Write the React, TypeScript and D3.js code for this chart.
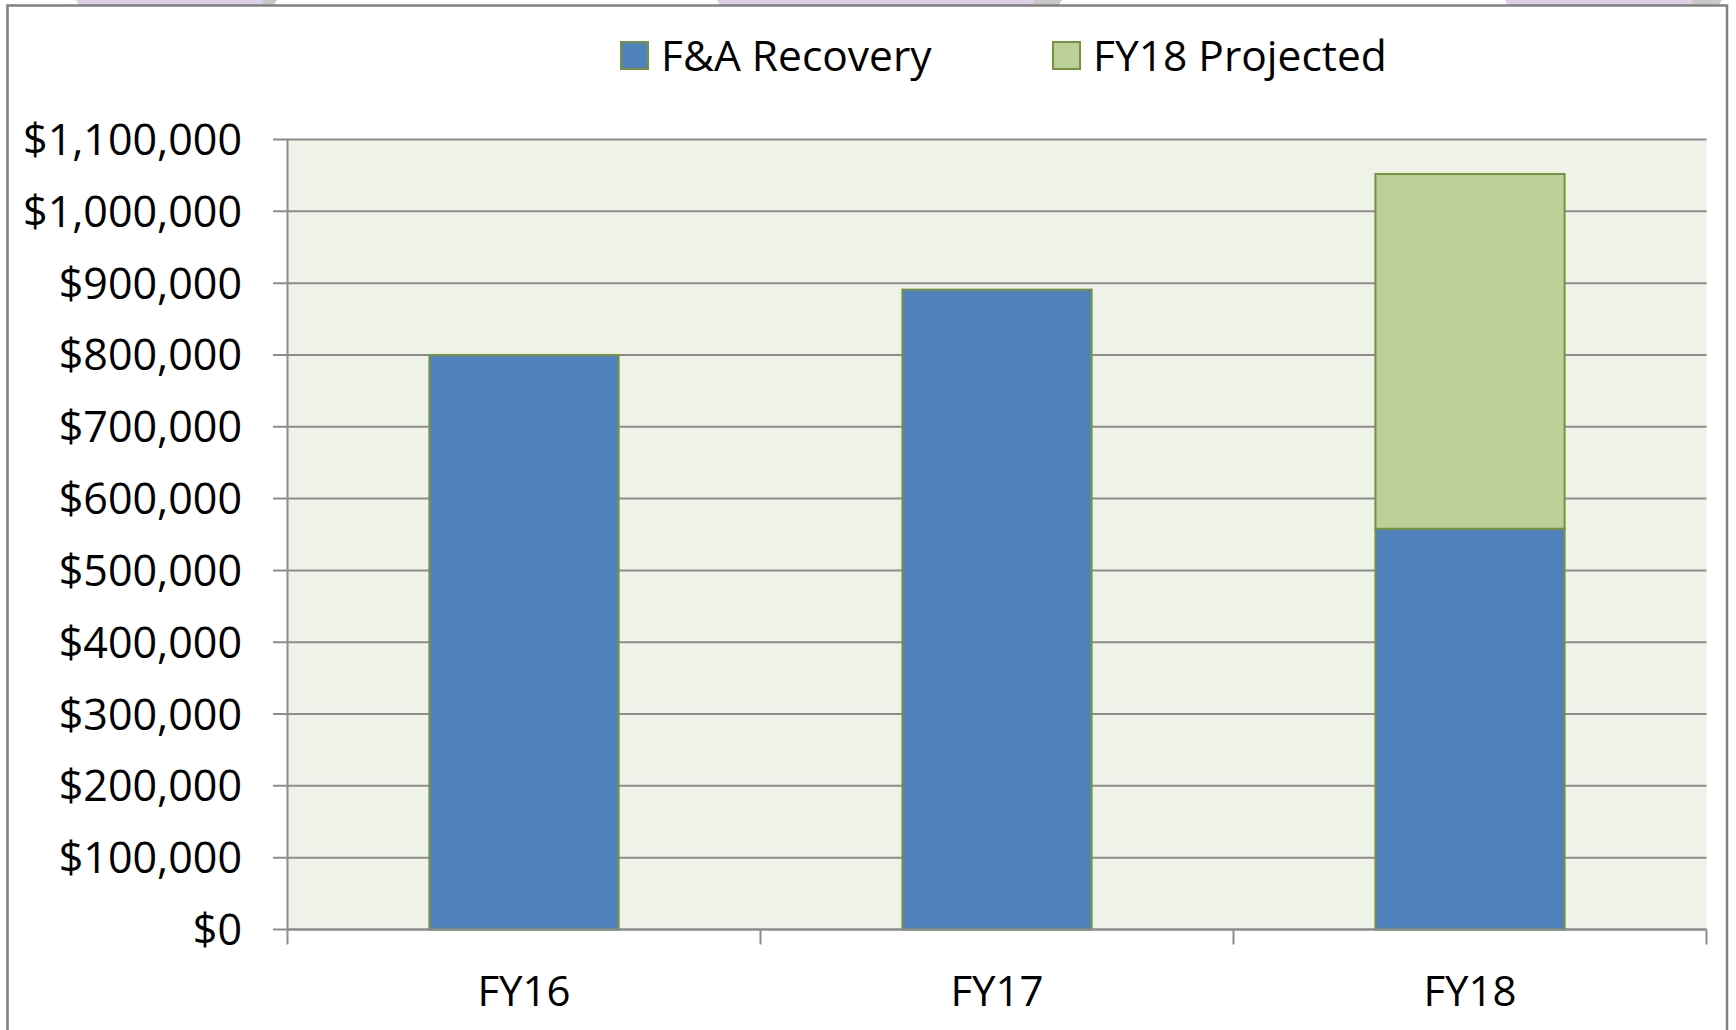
import * as d3 from 'd3';

const categories = ['FY16', 'FY17', 'FY18'];
const recovery = [800000, 891000, 558000];
const projected = [0, 0, 494000];
const seriesNames = ['F&A Recovery', 'FY18 Projected'];
const seriesColors = ['#4F81BD', '#BBCF99'];
const yTicks = d3.range(0, 1100001, 100000);

const W = 1736;
const H = 1030;
const margin = { top: 139.5, right: 29.5, bottom: 100.5, left: 287.5 };
const font = '"Open Sans", "Noto Sans", sans-serif';

type Row = { cat: string; recovery: number; projected: number };

export default function App() {
  const rows: Row[] = categories.map((c, i) => ({
    cat: c,
    recovery: recovery[i],
    projected: projected[i],
  }));

  const x = d3.scaleBand()
    .domain(categories)
    .range([margin.left, W - margin.right])
    .paddingInner(0.6)
    .paddingOuter(0.3);

  // band used for category tick marks (no padding)
  const xCat = d3.scaleBand()
    .domain(categories)
    .range([margin.left, W - margin.right]);

  const y = d3.scaleLinear()
    .domain([0, 1100000])
    .range([H - margin.bottom, margin.top]);

  const stack = d3.stack<Row>().keys(['recovery', 'projected']);
  const layers = stack(rows);

  const fmt = (v: number) => '$' + d3.format(',')(v);

  const catTicks = [...categories.map(c => xCat(c) as number), W - margin.right];

  // decorative slide tabs peeking above the frame
  const tabs = [
    [76, 263, 277],
    [717, 1034, 1062],
    [1505, 1692, 1722],
  ];

  return (
    <div style={{ position: 'absolute', left: 0, top: 0 }}>
      <svg width={W} height={H} style={{ display: 'block', background: '#fff' }}>
        {tabs.map(([a, b, c], i) => (
          <g key={i}>
            <polygon points={`${a},0 ${b},0 ${b - 2},6 ${a + 3},6`} fill="#DDD0E7" />
            <polygon points={`${b},0 ${c},0 ${c - 4},6 ${b - 2},6`} fill="#C9C9C9" />
          </g>
        ))}
        <rect x={7.5} y={5.5} width={1719.5} height={H + 10} fill="#fff" stroke="#808080" strokeWidth={2.5} />

        {/* legend */}
        {seriesNames.map((name, i) => {
          const lx = [621, 1053][i];
          return (
            <g key={name}>
              <rect x={lx} y={42} width={27} height={27} fill={seriesColors[i]} stroke="#77933C" strokeWidth={2} />
              <text x={lx + 40} y={55.5} dy="0.36em" fontFamily={font} fontSize={42.5} fill="#000">
                {name}
              </text>
            </g>
          );
        })}

        {/* plot area */}
        <rect
          x={margin.left}
          y={margin.top}
          width={W - margin.left - margin.right}
          height={H - margin.top - margin.bottom}
          fill="#EFF2E9"
        />

        {/* grid + y labels */}
        {yTicks.map(t => (
          <g key={t} transform={`translate(0,${y(t)})`}>
            <line x1={273} x2={W - margin.right} stroke="#8C8C8C" strokeWidth={2} />
            <text
              x={242}
              dy="0.36em"
              textAnchor="end"
              fontFamily={font}
              fontSize={43}
              fill="#000"
            >
              {fmt(t)}
            </text>
          </g>
        ))}

        {/* y axis line */}
        <line x1={margin.left} x2={margin.left} y1={margin.top} y2={H - margin.bottom} stroke="#8C8C8C" strokeWidth={2} />

        {/* bars */}
        {layers.map((layer, li) => (
          <g key={layer.key}>
            {layer.map((d, i) => {
              const h = y(d[0]) - y(d[1]);
              if (h <= 0) return null;
              return (
                <rect
                  key={i}
                  x={x(categories[i])}
                  y={y(d[1])}
                  width={x.bandwidth()}
                  height={h}
                  fill={seriesColors[li]}
                  stroke="#77933C"
                  strokeWidth={2}
                />
              );
            })}
          </g>
        ))}

        {/* x axis */}
        <line x1={margin.left} x2={W - margin.right} y1={y(0)} y2={y(0)} stroke="#8C8C8C" strokeWidth={2} />
        {catTicks.map((tx, i) => (
          <line key={i} x1={tx} x2={tx} y1={y(0)} y2={y(0) + 15} stroke="#8C8C8C" strokeWidth={2} />
        ))}
        {categories.map(c => (
          <text
            key={c}
            x={(xCat(c) as number) + xCat.bandwidth() / 2}
            y={1006}
            textAnchor="middle"
            fontFamily={font}
            fontSize={42}
            fill="#000"
          >
            {c}
          </text>
        ))}
      </svg>
    </div>
  );
}
